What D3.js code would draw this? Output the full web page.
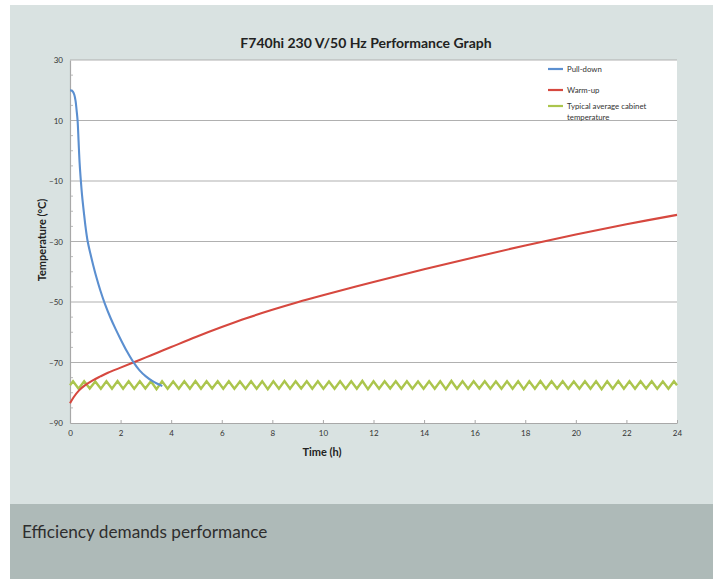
<!DOCTYPE html>
<html>
<head>
<meta charset="utf-8">
<script src="https://cdn.jsdelivr.net/npm/d3@7"></script>
<style>
  html, body { margin: 0; padding: 0; background: #ffffff; }
  svg { display: block; font-family: Lato, "Open Sans", sans-serif; }
</style>
</head>
<body>
<svg id="chart" width="713" height="579"></svg>
<script>
// ---- data ----
const xTicks = [0, 2, 4, 6, 8, 10, 12, 14, 16, 18, 20, 22, 24];
const yTicks = [30, 10, -10, -30, -50, -70, -90];
const yMinorTicks = [25, 20, 15, 5, 0, -5, -15, -20, -25, -35, -40, -45, -55, -60, -65, -75, -80, -85];

const seriesNames = ['Pull-down', 'Warm-up', 'Typical average cabinet temperature'];

const pullDownTimes = [0, 0.06, 0.12, 0.17, 0.22, 0.26, 0.30, 0.34, 0.38, 0.43, 0.48, 0.55, 0.62, 0.70,
  0.80, 0.92, 1.05, 1.20, 1.38, 1.60, 1.80, 2.00, 2.25, 2.50, 2.75, 3.00, 3.25, 3.50, 3.65];
const pullDownTemps = [20, 19.9, 19.5, 18.5, 16.5, 13.5, 10, 3, -4, -10, -15, -20.5, -25.5, -30,
  -33.8, -37.9, -42.0, -46.2, -50.6, -55.2, -58.9, -62.3, -66.3, -69.8, -72.6, -74.6, -76.1, -77.2, -77.8];

const warmUpTimes = [0, 0.15, 0.35, 0.6, 0.9, 1.2, 1.5, 2.0, 2.5, 3.0, 3.5, 4.0, 5.0, 6.0, 7.0, 8.0,
  9.0, 10, 12, 14, 16, 18, 20, 22, 24];
const warmUpTemps = [-83.5, -81.4, -79.3, -77.5, -75.9, -74.6, -73.4, -71.7, -70.0, -68.3, -66.6, -64.9,
  -61.5, -58.3, -55.3, -52.6, -50.1, -47.8, -43.4, -39.2, -35.2, -31.3, -27.7, -24.3, -21.2];

const cabinetTimes = [
  0, 0.12, 0.34, 0.56, 0.78, 1.00, 1.22, 1.44, 1.66, 1.88, 2.10,
  2.32, 2.54, 2.76, 2.98, 3.20, 3.42, 3.64, 3.86, 4.08, 4.30,
  4.52, 4.74, 4.96, 5.18, 5.40, 5.62, 5.84, 6.06, 6.28, 6.50,
  6.72, 6.94, 7.16, 7.38, 7.60, 7.82, 8.04, 8.26, 8.48, 8.70,
  8.92, 9.14, 9.36, 9.58, 9.80, 10.02, 10.24, 10.46, 10.68, 10.90,
  11.12, 11.34, 11.56, 11.78, 12.00, 12.22, 12.44, 12.66, 12.88, 13.10,
  13.32, 13.54, 13.76, 13.98, 14.20, 14.42, 14.64, 14.86, 15.08, 15.30,
  15.52, 15.74, 15.96, 16.18, 16.40, 16.62, 16.84, 17.06, 17.28, 17.50,
  17.72, 17.94, 18.16, 18.38, 18.60, 18.82, 19.04, 19.26, 19.48, 19.70,
  19.92, 20.14, 20.36, 20.58, 20.80, 21.02, 21.24, 21.46, 21.68, 21.90,
  22.12, 22.34, 22.56, 22.78, 23.00, 23.22, 23.44, 23.66, 23.88, 24.00];
const cabinetTemps = [
  -77.5, -76.2, -78.7, -76.2, -78.6, -76.3, -78.7, -76.2, -78.7, -76.1, -78.7,
  -76.2, -78.7, -76.2, -78.6, -76.2, -78.8, -76.2, -78.7, -76.3, -78.7,
  -76.2, -78.7, -76.1, -78.7, -76.2, -78.6, -76.2, -78.7, -76.2, -78.7,
  -76.3, -78.7, -76.2, -78.7, -76.2, -78.8, -76.2, -78.7, -76.1, -78.7,
  -76.2, -78.6, -76.2, -78.7, -76.2, -78.7, -76.3, -78.7, -76.2, -78.7,
  -76.2, -78.7, -76.1, -78.8, -76.2, -78.7, -76.2, -78.6, -76.2, -78.7,
  -76.2, -78.7, -76.3, -78.7, -76.2, -78.7, -76.2, -78.8, -76.1, -78.7,
  -76.2, -78.7, -76.2, -78.6, -76.2, -78.7, -76.3, -78.7, -76.2, -78.7,
  -76.2, -78.8, -76.2, -78.7, -76.1, -78.7, -76.2, -78.6, -76.2, -78.7,
  -76.3, -78.7, -76.2, -78.7, -76.2, -78.8, -76.2, -78.7, -76.1, -78.7,
  -76.2, -78.7, -76.2, -78.6, -76.2, -78.7, -76.3, -78.7, -76.2, -77.5];

// ---- layout ----
const W = 713, H = 579;
const plot = { left: 70, right: 677, top: 60, bottom: 423 };
const colors = { pull: '#5b8fd0', warm: '#d6483f', cabinet: '#abc54d' };

const svg = d3.select('#chart');

// panel and footer band
svg.append('rect').attr('x', 10).attr('y', 5).attr('width', W - 10).attr('height', 499).attr('fill', '#d9e2e1');
svg.append('rect').attr('x', 10).attr('y', 504).attr('width', W - 10).attr('height', H - 504).attr('fill', '#aebab8');
svg.append('text')
  .attr('x', 22).attr('y', 538)
  .attr('font-size', 17.2).attr('font-weight', 400)
  .attr('fill', '#2e2e2e')
  .text('Efficiency demands performance');

const x = d3.scaleLinear().domain([0, 24]).range([plot.left, plot.right]);
const y = d3.scaleLinear().domain([-90, 30]).range([plot.bottom, plot.top]);

// plot background
svg.append('rect')
  .attr('x', plot.left).attr('y', plot.top)
  .attr('width', plot.right - plot.left).attr('height', plot.bottom - plot.top)
  .attr('fill', '#fff');

// gridlines
svg.append('g').selectAll('line')
  .data(yTicks.filter(d => d > -90))
  .join('line')
  .attr('x1', plot.left).attr('x2', plot.right)
  .attr('y1', d => y(d)).attr('y2', d => y(d))
  .attr('stroke', '#b0b0b0').attr('stroke-width', 1.2);

// y minor ticks (inside)
svg.append('g').selectAll('line')
  .data(yMinorTicks)
  .join('line')
  .attr('x1', plot.left).attr('x2', plot.left + 3)
  .attr('y1', d => y(d)).attr('y2', d => y(d))
  .attr('stroke', '#bbb').attr('stroke-width', 1);

// axes
const yAxis = d3.axisLeft(y).tickValues(yTicks).tickSize(0).tickPadding(7);
const gy = svg.append('g').attr('transform', `translate(${plot.left},0)`).call(yAxis);
gy.select('.domain').attr('stroke', '#a8a8a8').attr('stroke-width', 1.2);
gy.selectAll('text').attr('font-size', 8).attr('fill', '#333').attr('font-family', 'Lato, sans-serif');

const xAxis = d3.axisBottom(x).tickValues(xTicks).tickSizeInner(-3).tickSizeOuter(0).tickPadding(7);
const gx = svg.append('g').attr('transform', `translate(0,${plot.bottom})`).call(xAxis);
gx.select('.domain').attr('stroke', '#a8a8a8').attr('stroke-width', 1.2);
gx.selectAll('.tick line').attr('stroke', '#a8a8a8');
gx.selectAll('text').attr('font-size', 8).attr('fill', '#333').attr('font-family', 'Lato, sans-serif');

// titles
svg.append('text')
  .attr('x', 366).attr('y', 48)
  .attr('text-anchor', 'middle')
  .attr('font-size', 14).attr('font-weight', 700).attr('fill', '#222')
  .text('F740hi 230 V/50 Hz Performance Graph');

svg.append('text')
  .attr('transform', 'translate(46,240) rotate(-90)')
  .attr('text-anchor', 'middle')
  .attr('font-size', 11).attr('font-weight', 700).attr('fill', '#222')
  .text('Temperature (°C)');

svg.append('text')
  .attr('x', 322).attr('y', 456)
  .attr('text-anchor', 'middle')
  .attr('font-size', 11).attr('font-weight', 700).attr('fill', '#222')
  .text('Time (h)');

// series
const zip = (ts, vs) => ts.map((t, i) => [t, vs[i]]);
const smooth = d3.line().x(d => x(d[0])).y(d => y(d[1])).curve(d3.curveCatmullRom.alpha(0.5));
const straight = d3.line().x(d => x(d[0])).y(d => y(d[1]));

svg.append('path')
  .datum(zip(cabinetTimes, cabinetTemps))
  .attr('d', straight)
  .attr('fill', 'none').attr('stroke', colors.cabinet).attr('stroke-width', 2.4)
  .attr('stroke-linejoin', 'miter');

svg.append('path')
  .datum(zip(warmUpTimes, warmUpTemps))
  .attr('d', smooth)
  .attr('fill', 'none').attr('stroke', colors.warm).attr('stroke-width', 2.1);

svg.append('path')
  .datum(zip(pullDownTimes, pullDownTemps))
  .attr('d', smooth)
  .attr('fill', 'none').attr('stroke', colors.pull).attr('stroke-width', 2.1);

// legend
const legendItems = [
  { lines: ['Pull-down'], color: colors.pull, y: 69 },
  { lines: ['Warm-up'], color: colors.warm, y: 90 },
  { lines: ['Typical average cabinet', 'temperature'], color: colors.cabinet, y: 106 }
];
const lg = svg.append('g');
legendItems.forEach((d, i) => {
  lg.append('line')
    .attr('x1', 548).attr('x2', 563).attr('y1', d.y).attr('y2', d.y)
    .attr('stroke', d.color).attr('stroke-width', 2.2);
  const t = lg.append('text')
    .attr('x', 567).attr('y', d.y + 2.8)
    .attr('font-size', 7.8).attr('fill', '#333');
  d.lines.forEach((s, j) => {
    t.append('tspan').attr('x', 567).attr('dy', j === 0 ? 0 : 11).text(s);
  });
});
</script>
</body>
</html>
